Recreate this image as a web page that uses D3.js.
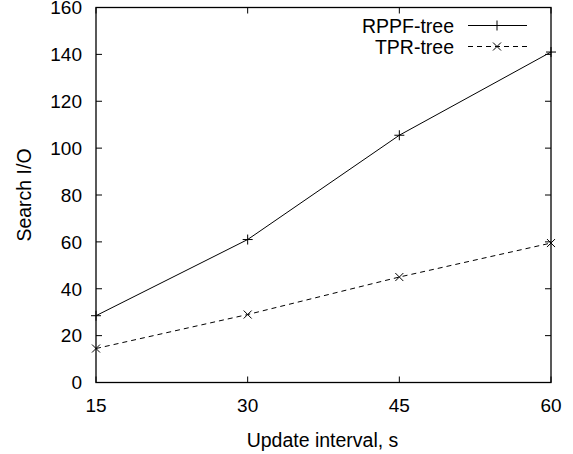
<!DOCTYPE html>
<html><head><meta charset="utf-8">
<script src="https://cdn.jsdelivr.net/npm/d3@7"></script>
<style>body{margin:0;background:#fff}svg{display:block}text{font-family:"Liberation Sans",Arial,sans-serif;fill:#000}</style>
</head><body>
<script>
const xCategories = [15, 30, 45, 60];
const rppfValues = [28.5, 61, 105.5, 141];
const tprValues = [14.5, 29, 45, 59.5];
const yTicks = [0, 20, 40, 60, 80, 100, 120, 140, 160];
const seriesNames = ["RPPF-tree", "TPR-tree"];

const W = 573, H = 454;
const L = 96, R = 551, T = 7.5, B = 382.5;
const svg = d3.select("body").append("svg").attr("width", W).attr("height", H);
const x = d3.scaleLinear().domain([15, 60]).range([L, R]);
const y = d3.scaleLinear().domain([0, 160]).range([B, T]);
const fs = 19, fl = 19.5;

const tl = 6;
yTicks.forEach(v => {
  svg.append("line").attr("x1", L).attr("x2", L + tl).attr("y1", y(v)).attr("y2", y(v)).attr("stroke", "#000");
  svg.append("line").attr("x1", R).attr("x2", R - tl).attr("y1", y(v)).attr("y2", y(v)).attr("stroke", "#000");
  svg.append("text").attr("x", 82).attr("y", y(v)).attr("dy", "0.36em").attr("text-anchor", "end").attr("font-size", fs).text(v);
});
xCategories.forEach(v => {
  svg.append("line").attr("x1", x(v)).attr("x2", x(v)).attr("y1", B).attr("y2", B - tl).attr("stroke", "#000");
  svg.append("line").attr("x1", x(v)).attr("x2", x(v)).attr("y1", T).attr("y2", T + tl).attr("stroke", "#000");
  svg.append("text").attr("x", x(v)).attr("y", 412).attr("text-anchor", "middle").attr("font-size", fs).text(v);
});
svg.append("rect").attr("x", L).attr("y", T).attr("width", R - L).attr("height", B - T).attr("fill", "none").attr("stroke", "#000").attr("stroke-width", 1.3);

svg.append("text").attr("transform", `translate(31,${(T + B) / 2}) rotate(-90)`).attr("text-anchor", "middle").attr("font-size", fl).text("Search I/O");
svg.append("text").attr("x", (L + R) / 2 - 1).attr("y", 447).attr("text-anchor", "middle").attr("font-size", fl).text("Update interval, s");

const line = d3.line().x((d, i) => x(xCategories[i])).y(d => y(d));
const plus = (g, cx, cy, s) => {
  g.append("path").attr("d", `M${cx - s},${cy}H${cx + s}M${cx},${cy - s}V${cy + s}`).attr("stroke", "#000").attr("fill", "none");
};
const cross = (g, cx, cy, s) => {
  g.append("path").attr("d", `M${cx - s},${cy - s}L${cx + s},${cy + s}M${cx - s},${cy + s}L${cx + s},${cy - s}`).attr("stroke", "#000").attr("fill", "none");
};

svg.append("path").datum(rppfValues).attr("d", line).attr("fill", "none").attr("stroke", "#000").attr("stroke-width", 1);
svg.append("path").datum(tprValues).attr("d", line).attr("fill", "none").attr("stroke", "#000").attr("stroke-width", 1).attr("stroke-dasharray", "5,4");
rppfValues.forEach((v, i) => plus(svg, x(xCategories[i]), y(v), 5));
tprValues.forEach((v, i) => cross(svg, x(xCategories[i]), y(v), 4));

const legY = [25.5, 46.5];
seriesNames.forEach((n, i) => {
  svg.append("text").attr("x", 454).attr("y", legY[i] + 7).attr("text-anchor", "end").attr("font-size", fl).text(n);
  const ln = svg.append("line").attr("x1", 468).attr("x2", 527).attr("y1", legY[i]).attr("y2", legY[i]).attr("stroke", "#000");
  if (i === 1) { ln.attr("stroke-dasharray", "5,4"); cross(svg, 497, legY[i], 4); } else plus(svg, 497, legY[i], 5);
});
</script>
</body></html>
